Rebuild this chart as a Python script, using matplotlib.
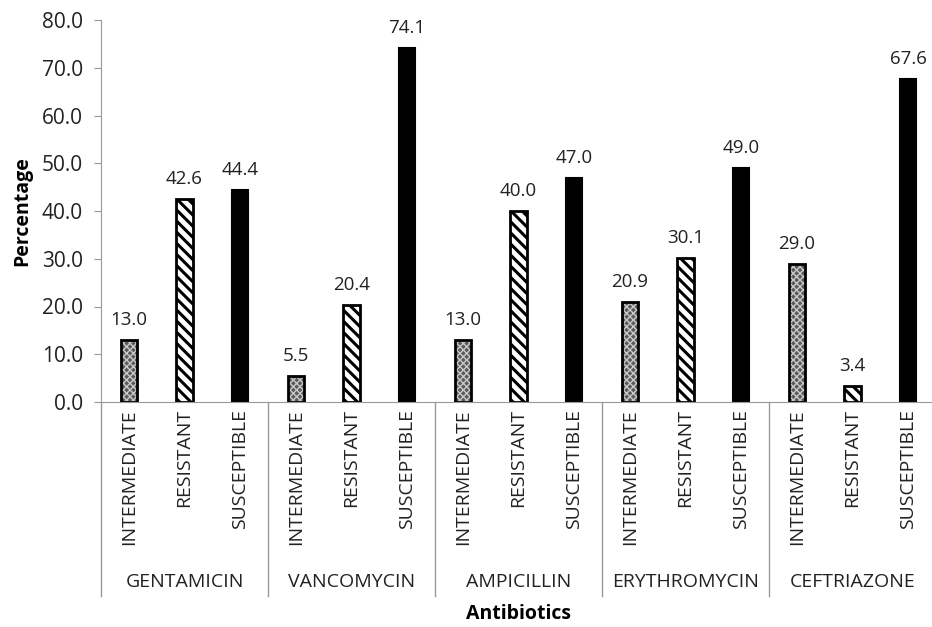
import numpy as np
import matplotlib.pyplot as plt
import matplotlib as mpl

antibiotics = ["GENTAMICIN", "VANCOMYCIN", "AMPICILLIN", "ERYTHROMYCIN", "CEFTRIAZONE"]
outcomes = ["INTERMEDIATE", "RESISTANT", "SUSCEPTIBLE"]
intermediate = [13.0, 5.5, 13.0, 20.9, 29.0]
resistant = [42.6, 20.4, 40.0, 30.1, 3.4]
susceptible = [44.4, 74.1, 47.0, 49.0, 67.6]

plt.rcParams['font.family'] = ['Open Sans', 'DejaVu Sans']
txt = '#222222'

fig = plt.figure(figsize=(9.32, 6.27), dpi=100)
ax = fig.add_axes([101/932, 1 - 402/627, 835/932, 382/627])

n = len(antibiotics)
base = np.arange(n) * 3
w = 0.29

# intermediate: grey stipple fill, then a black outline on top
x0 = base + 0.5
b = ax.bar(x0, intermediate, width=w, facecolor='#5a5a5a', edgecolor='#c8c8c8',
           hatch='xxxxx', linewidth=0)
for p in b:
    if hasattr(p, 'set_hatch_linewidth'):
        p.set_hatch_linewidth(1.0)
ax.bar(x0, intermediate, width=w, facecolor='none', edgecolor='black', linewidth=2)

# resistant: white with diagonal stripes
x1 = base + 1.5
b = ax.bar(x1, resistant, width=w, facecolor='white', edgecolor='black',
           hatch='\\\\\\', linewidth=2)
for p in b:
    if hasattr(p, 'set_hatch_linewidth'):
        p.set_hatch_linewidth(2.2)

# susceptible: solid black
x2 = base + 2.5
ax.bar(x2, susceptible, width=w, facecolor='black', edgecolor='black', linewidth=1.5)

for xs, vals in [(x0, intermediate), (x1, resistant), (x2, susceptible)]:
    for xi, v in zip(xs, vals):
        ax.text(xi, v + 2.3, f"{v:.1f}", ha='center', va='bottom', fontsize=13.5, color=txt)

ax.set_xlim(0, n * 3)
ax.set_ylim(0, 80)
yt = np.arange(0, 81, 10)
ax.set_yticks(yt)
ax.set_yticklabels([f"{t:.1f}" for t in yt], fontsize=15, color=txt)

xt = np.concatenate([x0, x1, x2])
xl = [outcomes[k] for k in range(3) for _ in range(n)]
ax.set_xticks(xt)
ax.set_xticklabels(xl, rotation=90, fontsize=14, color=txt, va='top')
ax.tick_params(axis='x', length=0, pad=5)
ax.tick_params(axis='y', length=5, color='#999999', pad=8)

for s in ['top', 'right']:
    ax.spines[s].set_visible(False)
for s in ['left', 'bottom']:
    ax.spines[s].set_color('#999999')

trans = mpl.transforms.blended_transform_factory(ax.transData, ax.transAxes)
for i in range(n + 1):
    ax.plot([i * 3, i * 3], [0, -0.508], color='#999999', lw=1, transform=trans, clip_on=False)
for i, name in enumerate(antibiotics):
    ax.text(i * 3 + 1.5, -0.471, name, transform=trans, ha='center', va='center',
            fontsize=14, color=txt)

ax.set_ylabel("Percentage", fontsize=14, fontweight='bold')
ax.yaxis.set_label_coords(-0.082, 0.5)
fig.text(518/932, 1 - 614/627, "Antibiotics", ha='center', va='center', fontsize=14, fontweight='bold')

fig.savefig("out.png", dpi=100)
